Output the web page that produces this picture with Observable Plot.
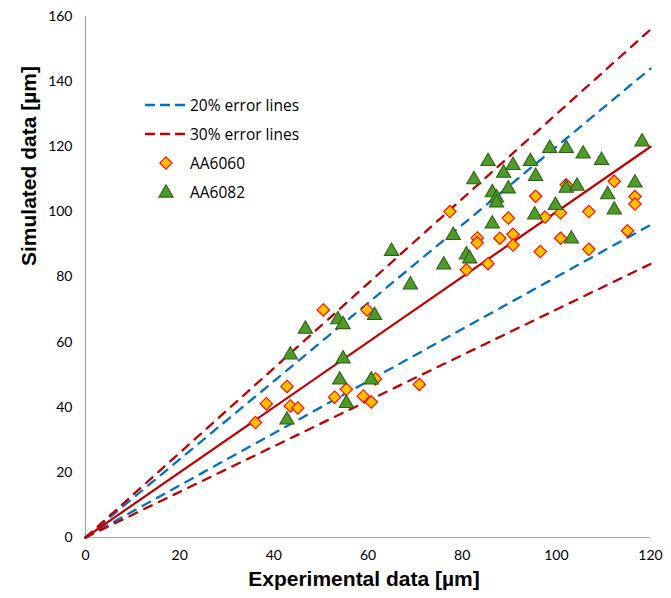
<!DOCTYPE html>
<html><head><meta charset="utf-8">
<script src="https://cdn.jsdelivr.net/npm/d3@7"></script>
<script src="https://cdn.jsdelivr.net/npm/@observablehq/plot@0.6"></script>
<style>
body{margin:0;background:#fff;}
#wrap{position:relative;width:671px;height:598px;}
#legend{position:absolute;left:140px;top:90px;font-family:"Open Sans",Lato,sans-serif;font-size:15.5px;color:#000;}
#legend .row{display:flex;align-items:center;height:29px;}
#legend svg{width:50px;height:20px;margin-right:0px;flex:none;}
</style>
</head><body><div id="wrap"><div id="legend"></div></div>
<script>
// ---- data ----
const aa6060X = [36.1, 38.4, 42.8, 43.5, 45.1, 50.5, 52.9, 55.4, 59.0, 59.8, 60.7, 61.6, 70.9,
  77.4, 83.2, 83.2, 88.0, 89.8, 90.8, 90.8, 80.9, 85.5, 95.6, 97.6, 100.9, 102.1, 106.9, 112.3,
  116.7, 116.7, 115.1, 100.9, 96.6, 106.9];
const aa6060Y = [35.3, 41.1, 46.4, 40.4, 39.8, 69.9, 43.1, 45.5, 43.4, 69.9, 41.6, 48.7, 47.0,
  100.1, 92.0, 90.5, 91.9, 98.1, 93.1, 89.8, 82.2, 84.1, 104.8, 98.4, 99.7, 108.3, 100.1, 109.4,
  104.7, 102.4, 94.2, 91.9, 87.8, 88.5];
const aa6082X = [46.7, 43.5, 53.6, 54.7, 61.4, 54.7, 54.0, 60.7, 55.4, 42.8,
  65.0, 69.0, 76.1, 78.1, 80.9, 81.6, 82.5, 85.5, 86.4, 86.4, 87.3, 87.3, 88.8, 89.8, 90.8,
  94.5, 95.6, 95.4, 98.6, 99.8, 102.1, 102.1, 103.2, 104.4, 105.7, 109.6, 110.9, 112.3, 116.7, 118.2];
const aa6082Y = [64.0, 56.1, 66.9, 65.4, 68.2, 54.9, 48.4, 48.4, 41.2, 36.1,
  87.9, 77.6, 83.7, 92.8, 86.8, 85.6, 109.9, 115.5, 105.9, 96.3, 104.3, 102.8, 111.9, 107.1, 114.3,
  115.5, 110.9, 99.1, 119.5, 102.0, 119.5, 107.3, 91.7, 107.9, 117.8, 115.8, 105.3, 100.6, 108.9, 121.5];
// reference lines (end points)
const lineX = [0, 120];
const perfectY = [0, 120];
const plus20Y = [0, 144];
const minus20Y = [0, 96];
const plus30Y = [0, 156];
const minus30Y = [0, 84];
const xTicks = [0, 20, 40, 60, 80, 100, 120];
const yTicks = [0, 20, 40, 60, 80, 100, 120, 140, 160];
const seriesNames = ["20% error lines", "30% error lines", "AA6060", "AA6082"];
const xTitle = "Experimental data [µm]";
const yTitle = "Simulated data [µm]";

const blue = "#0070C0", darkRed = "#C00000";
const toRows = (xs, ys) => xs.map((x, i) => ({x, y: ys[i]}));
const dashed = "8.5,7.8";
const titleFont = "'Liberation Sans', Arial, sans-serif";

const chart = Plot.plot({
  width: 671, height: 598,
  marginLeft: 85, marginRight: 21, marginTop: 16, marginBottom: 61,
  style: {fontFamily: "Lato, 'Open Sans', sans-serif", color: "#000", background: "#fff"},
  x: {domain: [0, 120]},
  y: {domain: [0, 160]},
  marks: [
    Plot.ruleY([0], {stroke: "#a6a6a6", strokeWidth: 1.2}),
    Plot.ruleX([0], {stroke: "#a6a6a6", strokeWidth: 1.2}),
    Plot.axisX({ticks: xTicks, tickSize: 0, tickPadding: 13, fontSize: 14, label: null}),
    Plot.axisY({ticks: yTicks, tickSize: 0, tickPadding: 13, fontSize: 14, label: null}),
    Plot.line(toRows(lineX, plus20Y), {x: "x", y: "y", stroke: blue, strokeWidth: 2.3, strokeDasharray: dashed}),
    Plot.line(toRows(lineX, minus20Y), {x: "x", y: "y", stroke: blue, strokeWidth: 2.3, strokeDasharray: dashed}),
    Plot.line(toRows(lineX, plus30Y), {x: "x", y: "y", stroke: darkRed, strokeWidth: 2.3, strokeDasharray: dashed}),
    Plot.line(toRows(lineX, minus30Y), {x: "x", y: "y", stroke: darkRed, strokeWidth: 2.3, strokeDasharray: dashed}),
    Plot.line(toRows(lineX, perfectY), {x: "x", y: "y", stroke: darkRed, strokeWidth: 2.2}),
    Plot.dot(toRows(aa6060X, aa6060Y), {x: "x", y: "y", symbol: "diamond2", r: 5.6, fill: "#FFC000", stroke: "#FF0000", strokeWidth: 1.1}),
    Plot.dot(toRows(aa6082X, aa6082Y), {x: "x", y: "y", symbol: "triangle", r: 5.3, fill: "#4F9A2B", stroke: "#2A6412", strokeWidth: 1.1}),
    Plot.text([xTitle], {frameAnchor: "bottom", dy: 48, dx: -4, fontSize: 21, fontWeight: "bold", fontFamily: titleFont}),
    Plot.text([yTitle], {frameAnchor: "left", dx: -56, dy: -11, rotate: -90, fontSize: 21, fontWeight: "bold", fontFamily: titleFont})
  ]
});
document.getElementById("wrap").prepend(chart);

// legend
const legend = d3.select("#legend");
const items = [
  {name: seriesNames[0], kind: "line", color: blue},
  {name: seriesNames[1], kind: "line", color: darkRed},
  {name: seriesNames[2], kind: "diamond"},
  {name: seriesNames[3], kind: "triangle"}
];
for (const it of items) {
  const row = legend.append("div").attr("class", "row");
  const s = row.append("svg");
  if (it.kind === "line") {
    s.append("line").attr("x1", 5).attr("x2", 47).attr("y1", 10).attr("y2", 10)
      .attr("stroke", it.color).attr("stroke-width", 2.3).attr("stroke-dasharray", "10,5");
  } else if (it.kind === "diamond") {
    s.append("path").attr("transform", "translate(26,10)")
      .attr("d", d3.symbol(d3.symbolDiamond2, Math.PI * 5.6 * 5.6)())
      .attr("fill", "#FFC000").attr("stroke", "#FF0000").attr("stroke-width", 1.1);
  } else {
    s.append("path").attr("transform", "translate(26,11)")
      .attr("d", d3.symbol(d3.symbolTriangle, Math.PI * 5.3 * 5.3)())
      .attr("fill", "#4F9A2B").attr("stroke", "#2A6412").attr("stroke-width", 1.1);
  }
  row.append("span").text(it.name);
}
</script>
</body></html>
